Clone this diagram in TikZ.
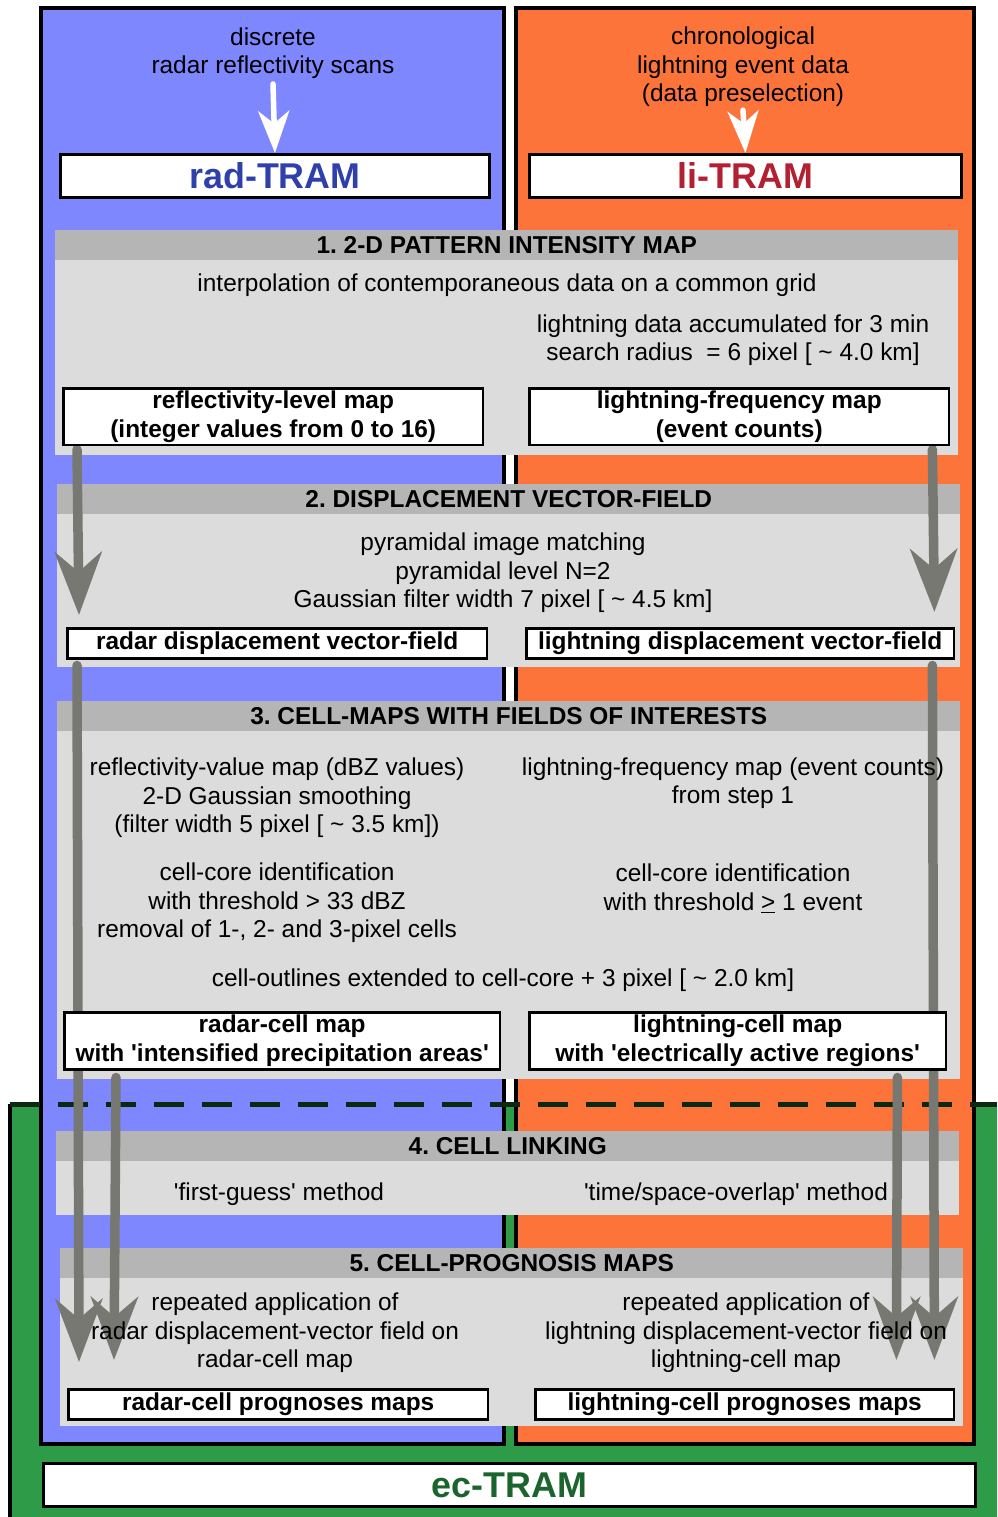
\documentclass[tikz,border=0pt]{standalone}
\usepackage{fontspec}
\setmainfont{Liberation Sans}
\usetikzlibrary{arrows.meta, calc}

\definecolor{radblue}{RGB}{127,135,255}
\definecolor{liorange}{RGB}{253,116,58}
\definecolor{ecgreen}{RGB}{46,155,73}
\definecolor{headgray}{RGB}{181,181,181}
\definecolor{bodygray}{RGB}{219,220,219}
\definecolor{arrgray}{RGB}{120,120,115}
\definecolor{radtext}{RGB}{48,64,170}
\definecolor{litext}{RGB}{178,32,50}
\definecolor{ectext}{RGB}{28,100,45}
\definecolor{dashgreen}{RGB}{10,40,18}

\pgfdeclarelayer{bg}
\pgfdeclarelayer{mid}
\pgfsetlayers{bg,mid,main}

\newcommand{\txt}{\fontsize{13.9}{16.2}\selectfont\frenchspacing}
\newcommand{\ttl}{\fontsize{20.4}{24}\selectfont\bfseries}
\newcommand{\sq}{\textquotesingle}

\begin{document}
\begin{tikzpicture}[x=0.02cm, y=-0.02cm,
  panel/.style={draw=black, line width=0.08cm},
  sechead/.style={fill=headgray, minimum width=18.06cm, minimum height=0.6cm, inner sep=0, font=\txt\bfseries},
  secbody/.style={fill=bodygray, minimum width=18.06cm, inner sep=0},
  box/.style={draw, fill=white, line width=0.05cm, inner sep=0, align=center, font=\txt\bfseries, anchor=north west},
  tram/.style={box, line width=0.06cm, minimum height=0.86cm, font=\ttl},
  note/.style={align=center, font=\txt, inner sep=0},
  garr/.style={draw=arrgray, line width=0.19cm, line cap=round, -{Stealth[length=1.26cm, width=0.94cm, inset=0.4cm]}},
  warr/.style={draw=white, line width=0.11cm, line cap=round, -{Stealth[length=0.84cm, width=0.62cm, inset=0.25cm]}},
  dashln/.style={draw=dashgreen, line width=0.1cm, dash pattern=on 0.6cm off 0.36cm}
]
\useasboundingbox (0,0) rectangle (997,1517);

\begin{pgfonlayer}{bg}
  \fill[ecgreen] (10,1104) rectangle (997,1517);
  \draw[black, line width=0.08cm] (10,1104) -- (10,1517);
  \draw[panel, fill=radblue] (41,8) rectangle (504,1444);
  \draw[panel, fill=liorange] (516,8) rectangle (974,1444);
  \draw[dashln] (10,1104) -- (997,1104);
  \foreach \k/\x/\y/\h/\t in {
      1/55/230/3.88/{1. 2-D PATTERN INTENSITY MAP},
      2/57/484/3.04/{2. DISPLACEMENT VECTOR-FIELD},
      3/57/701/6.94/{3. CELL-MAPS WITH FIELDS OF INTERESTS},
      4/56/1131/1.06/{4. CELL LINKING},
      5/60/1248/2.94/{5. CELL-PROGNOSIS MAPS}} {
    \node[sechead, anchor=north west] (h\k) at (\x,\y) {\t};
    \node[secbody, anchor=north, minimum height=\h cm+0.02cm] (s\k) at ([yshift=0.02cm]h\k.south) {};
  }
\end{pgfonlayer}

\node[note] (radsrc) at (273,53) {discrete\\radar reflectivity scans};
\node[note] (lisrc) at (743,67) {chronological\\lightning event data\\(data preselection)};
\node[tram, minimum width=8.58cm, text=radtext] (radtram) at (59,153) {rad-TRAM};
\node[tram, minimum width=8.64cm, text=litext] (litram) at (528,153) {li-TRAM};

\node[note] (interp) at (507,285) {interpolation of contemporaneous data on a common grid};
\node[note] (accum) at (733,340) {lightning data accumulated for 3 min\\search radius \ = 6 pixel [ \textasciitilde{} 4.0 km]};
\node[box, minimum width=8.4cm, minimum height=1.14cm] (refl) at (62,387) {reflectivity-level map\\(integer values from 0 to 16)};
\node[box, minimum width=8.4cm, minimum height=1.14cm] (lifreq) at (528,387) {lightning-frequency map\\(event counts)};

\node[note] (pyram) at (503,573) {pyramidal image matching\\pyramidal level N=2\\Gaussian filter width 7 pixel [ \textasciitilde{} 4.5 km]};
\node[box, minimum width=8.4cm, minimum height=0.6cm] (raddisp) at (66,627) {radar displacement vector-field};
\node[box, minimum width=8.56cm, minimum height=0.6cm] (lidisp) at (525,627) {lightning displacement vector-field};

\node[note] (radval) at (277,798) {reflectivity-value map (dBZ values)\\2-D Gaussian smoothing\\(filter width 5 pixel [ \textasciitilde{} 3.5 km])};
\node[note] (lival) at (733,783) {lightning-frequency map (event counts)\\from step 1};
\node[note] (radcore) at (277,903) {cell-core identification\\with threshold > 33 dBZ\\removal of 1-, 2- and 3-pixel cells};
\node[note] (licore) at (733,889) {cell-core identification\\with threshold \underline{>} 1 event};
\node[note] (outline) at (503,980) {cell-outlines extended to cell-core + 3 pixel [ \textasciitilde{} 2.0 km]};
\node[box, minimum width=8.72cm, minimum height=1.14cm] (radcell) at (63,1011) {radar-cell map\\with \sq intensified precipitation areas\sq};
\node[box, minimum width=8.34cm, minimum height=1.14cm] (licell) at (528,1011) {lightning-cell map\\with \sq electrically active regions\sq};

\node[note] (radlink) at (279,1194) {\sq first-guess\sq{} method};
\node[note] (lilink) at (736,1194) {\sq time/space-overlap\sq{} method};

\node[note] (radrep) at (275,1333) {repeated application of\\radar displacement-vector field on\\radar-cell map};
\node[note] (lirep) at (746,1333) {repeated application of\\lightning displacement-vector field on\\lightning-cell map};
\node[box, minimum width=8.4cm, minimum height=0.6cm] (radprog) at (67,1388) {radar-cell prognoses maps};
\node[box, minimum width=8.38cm, minimum height=0.6cm] (liprog) at (534,1388) {lightning-cell prognoses maps};

\node[tram, minimum width=18.64cm, text=ectext] (ectram) at (42,1462) {ec-TRAM};

\begin{pgfonlayer}{mid}
  \draw[warr] ([yshift=-0.1cm]radsrc.south) -- (radtram.north);
  \draw[warr] ([yshift=-0.06cm]lisrc.south) -- (litram.north);
  \foreach \a/\b in {
      {($(refl.south west)+(15,3)$)}/{($(raddisp.north west)+(13,-12)$)},
      {($(lifreq.south east)+(-18,3)$)}/{($(lidisp.north east)+(-21,-15)$)},
      {($(raddisp.south west)+(11,6)$)}/{($(radprog.north west)+(12,-26)$)},
      {($(lidisp.south east)+(-23,6)$)}/{($(liprog.north east)+(-21,-28)$)},
      {($(radcell.south west)+(53,7)$)}/{($(radprog.north west)+(47,-28)$)},
      {($(licell.south east)+(-50,7)$)}/{($(liprog.north east)+(-59,-28)$)}}
    \draw[garr] \a -- \b;
\end{pgfonlayer}
\end{tikzpicture}
\end{document}
